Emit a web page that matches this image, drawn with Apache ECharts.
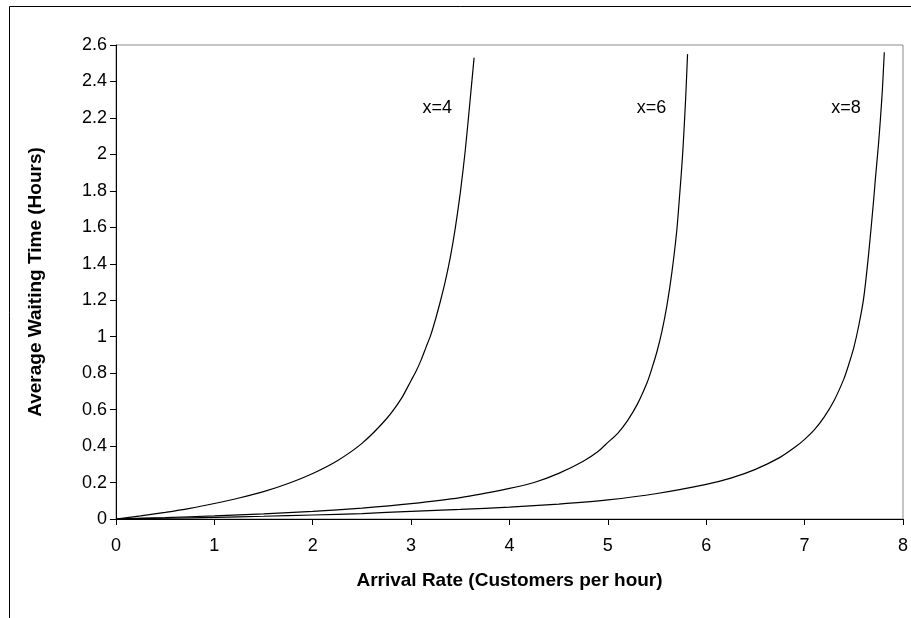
<!DOCTYPE html>
<html><head><meta charset="utf-8">
<script src="https://cdn.jsdelivr.net/npm/echarts@6/dist/echarts.min.js"></script>
<style>html,body{margin:0;padding:0;background:#fff}#c{width:911px;height:618px}</style>
</head><body><div id="c"></div>
<script>
// Arrival rate (customers per hour) and average waiting time (hours)
const rateX4 = [0, 0.25, 0.5, 0.75, 1, 1.25, 1.5, 1.75, 2, 2.25, 2.5, 2.75, 2.9, 3, 3.05, 3.1, 3.15, 3.2, 3.25, 3.3, 3.35, 3.4, 3.45, 3.5, 3.55, 3.6, 3.64];
const waitX4 = [0, 0.017, 0.036, 0.058, 0.085, 0.115, 0.15, 0.195, 0.25, 0.32, 0.415, 0.55, 0.66, 0.76, 0.81, 0.87, 0.94, 1.01, 1.1, 1.2, 1.31, 1.44, 1.6, 1.79, 2.02, 2.3, 2.53];

const rateX6 = [0, 0.5, 1, 1.5, 2, 2.5, 3, 3.5, 4, 4.25, 4.5, 4.75, 4.9, 5, 5.1, 5.2, 5.3, 5.4, 5.45, 5.5, 5.55, 5.6, 5.65, 5.7, 5.73, 5.76, 5.79, 5.81];
const waitX6 = [0, 0.008, 0.017, 0.028, 0.042, 0.06, 0.084, 0.117, 0.168, 0.2, 0.25, 0.317, 0.37, 0.42, 0.47, 0.54, 0.63, 0.75, 0.83, 0.92, 1.03, 1.17, 1.35, 1.58, 1.78, 2.0, 2.3, 2.55];

const rateX8 = [0, 0.5, 1, 1.5, 2, 2.5, 3, 3.5, 4, 4.5, 5, 5.5, 6, 6.25, 6.5, 6.75, 6.9, 7, 7.1, 7.2, 7.3, 7.4, 7.45, 7.5, 7.55, 7.6, 7.65, 7.7, 7.72, 7.75, 7.77, 7.79, 7.81];
const waitX8 = [0, 0.004, 0.009, 0.015, 0.022, 0.03, 0.042, 0.053, 0.065, 0.082, 0.105, 0.14, 0.19, 0.224, 0.272, 0.338, 0.393, 0.437, 0.49, 0.56, 0.65, 0.77, 0.85, 0.94, 1.06, 1.21, 1.45, 1.74, 1.87, 2.05, 2.19, 2.35, 2.56];

const curveNames = ['x=4', 'x=6', 'x=8'];

const pairs = (xs, ys) => xs.map((x, i) => [x, ys[i]]);
const labelAnchors = [[3.266, 2.254], [5.443, 2.254], [7.421, 2.254]];

const chart = echarts.init(document.getElementById('c'), null, {renderer: 'canvas'});
const sans = '"Liberation Sans", Arial, sans-serif';
const tickFont = {fontFamily: sans, fontSize: 18, color: '#000'};

function mkSeries(name, xs, ys, idx) {
  return {
    name: name,
    type: 'line',
    data: pairs(xs, ys),
    showSymbol: false,
    symbol: 'none',
    smooth: 0.25,
    lineStyle: {color: '#000', width: 1.2},
    silent: true,
    markPoint: {
      symbol: 'circle',
      symbolSize: 0,
      silent: true,
      data: [{coord: labelAnchors[idx], value: name}],
      label: {show: true, position: 'inside', formatter: name,
        fontFamily: sans, fontSize: 18, color: '#000'}
    }
  };
}

chart.setOption({
  animation: false,
  backgroundColor: '#fff',
  grid: {left: 116, right: 8, top: 45, bottom: 99, show: true, borderColor: '#8a8a8a', borderWidth: 1, backgroundColor: 'transparent'},
  xAxis: {
    type: 'value', min: 0, max: 8, interval: 1,
    name: 'Arrival Rate (Customers per hour)', nameLocation: 'middle', nameGap: 52,
    nameTextStyle: {fontFamily: sans, fontWeight: 'bold', fontSize: 19, color: '#000'},
    axisLine: {lineStyle: {color: '#000', width: 1}},
    axisTick: {inside: false, length: 6, lineStyle: {color: '#000'}},
    axisLabel: Object.assign({margin: 18, formatter: v => String(v)}, tickFont),
    splitLine: {show: false}
  },
  yAxis: {
    type: 'value', min: 0, max: 2.6, interval: 0.2,
    name: 'Average Waiting Time (Hours)', nameLocation: 'middle', nameGap: 71, nameRotate: 90,
    nameTextStyle: {fontFamily: sans, fontWeight: 'bold', fontSize: 19, color: '#000'},
    axisLine: {show: true, lineStyle: {color: '#000', width: 1}},
    axisTick: {show: true, inside: false, length: 6, lineStyle: {color: '#000'}},
    axisLabel: Object.assign({margin: 9, formatter: v => String(Math.round(v * 10) / 10)}, tickFont),
    splitLine: {show: false}
  },
  series: [
    mkSeries(curveNames[0], rateX4, waitX4, 0),
    mkSeries(curveNames[1], rateX6, waitX6, 1),
    mkSeries(curveNames[2], rateX8, waitX8, 2)
  ],
  graphic: [{
    type: 'rect', silent: true, z: 100,
    shape: {x: 9.5, y: 6.5, width: 1000, height: 1000},
    style: {fill: 'none', stroke: '#000', lineWidth: 1}
  }]
});
</script></body></html>
